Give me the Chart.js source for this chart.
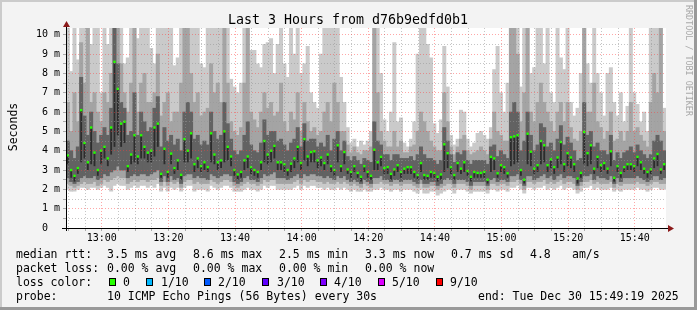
<!DOCTYPE html>
<html>
<head>
<meta charset="utf-8">
<script src="https://cdn.jsdelivr.net/npm/chart.js@4/dist/chart.umd.min.js"></script>
<style>
  html, body { margin: 0; padding: 0; background: #f3f3f3; }
  canvas { display: block; }
</style>
</head>
<body>
<canvas id="smoke" width="697" height="310"></canvas>
<script>
// ── Probe data: one step per minute, 12:49:19 → 15:49:19 (values in ms) ─────
const startMin = 49 + 19 / 60;   // minutes after 12:00

const median = [
  3.76, 3.0, 2.7, 3.1, 6.1, 4.4, 3.4, 5.2, 3.9, 3.0,
  4.0, 4.2, 3.6, 5.2, 8.6, 7.2, 5.4, 5.5, 3.2, 3.8,
  4.8, 3.7, 4.8, 4.2, 3.9, 4.0, 5.2, 5.4, 2.8, 4.1,
  2.9, 3.85, 3.1, 3.5, 2.75, 4.6, 4.0, 4.9, 3.3, 3.6,
  3.2, 3.4, 3.15, 4.9, 3.8, 3.4, 3.5, 5.0, 4.2, 3.7,
  3.0, 2.77, 2.9, 3.5, 3.7, 3.15, 3.0, 2.9, 3.4, 4.5,
  3.8, 4.0, 4.25, 3.4, 3.4, 3.3, 3.0, 3.33, 3.6, 4.2,
  3.36, 4.6, 3.7, 3.93, 3.97, 3.5, 3.65, 3.36, 3.8, 3.2,
  3.0, 4.28, 3.2, 3.93, 3.03, 2.9, 3.2, 2.85, 2.65, 3.2,
  2.9, 2.7, 4.05, 3.4, 3.68, 3.1, 3.15, 2.8, 3.03, 3.25,
  2.9, 3.07, 3.15, 3.15, 2.9, 2.74, 3.36, 2.74, 2.7, 2.9,
  2.85, 2.65, 2.77, 4.33, 3.87, 3.15, 2.74, 3.36, 3.07, 3.4,
  2.95, 2.65, 2.9, 2.85, 2.85, 2.9, 2.5, 3.68, 3.6, 2.83,
  3.25, 3.15, 2.83, 4.7, 4.74, 4.8, 3.0, 2.5, 4.88, 3.95,
  3.07, 3.25, 4.5, 4.28, 3.25, 3.55, 3.15, 3.65, 4.45, 3.3,
  3.87, 3.65, 3.3, 2.56, 2.85, 4.97, 3.87, 4.28, 3.07, 3.68,
  3.25, 3.36, 3.07, 3.97, 2.6, 3.2, 2.85, 3.15, 3.3, 3.3,
  3.2, 3.68, 3.4, 3.07, 2.9, 3.03, 3.6, 3.83, 3.03, 3.3,
];

// outer smoke: fastest / slowest ping
const pingMin = [
  2.0, 1.9, 1.9, 2.0, 2.1, 2.1, 2.0, 2.1, 2.1, 2.0,
  2.1, 2.2, 2.1, 1.9, 2.2, 2.3, 2.2, 2.2, 2.0, 2.1,
  2.2, 2.1, 2.2, 2.2, 2.1, 2.2, 2.1, 2.3, 1.9, 2.1,
  1.9, 2.1, 2.0, 2.1, 1.9, 2.1, 2.2, 2.2, 1.9, 2.0,
  2.0, 2.0, 1.9, 2.2, 2.1, 2.0, 2.1, 2.2, 2.2, 2.1,
  1.9, 1.9, 1.9, 2.0, 2.1, 2.0, 2.0, 1.9, 2.0, 2.2,
  2.1, 2.2, 2.2, 2.0, 2.0, 2.0, 2.0, 2.0, 2.1, 2.2,
  2.0, 2.2, 2.1, 2.2, 2.2, 2.1, 2.1, 2.0, 2.1, 2.0,
  2.0, 2.1, 2.0, 2.1, 2.0, 1.9, 2.0, 1.9, 1.9, 2.0,
  1.9, 1.9, 2.0, 2.0, 2.1, 2.0, 2.0, 1.9, 2.0, 2.0,
  1.9, 2.0, 2.0, 2.0, 1.9, 1.8, 2.0, 1.8, 1.8, 1.9,
  1.9, 1.7, 1.8, 1.9, 2.0, 2.0, 1.8, 2.0, 2.0, 2.0,
  1.9, 1.8, 1.9, 1.9, 1.9, 1.9, 1.8, 2.0, 2.0, 1.9,
  2.0, 2.0, 1.9, 2.1, 2.1, 2.2, 2.0, 1.8, 2.1, 2.1,
  2.0, 2.1, 2.1, 2.2, 2.0, 2.1, 2.0, 2.1, 2.2, 2.0,
  2.1, 2.1, 2.0, 1.8, 1.9, 2.1, 2.1, 2.2, 2.0, 2.1,
  2.0, 2.0, 2.0, 2.1, 1.9, 2.0, 1.9, 2.0, 2.0, 2.0,
  2.0, 2.1, 2.0, 2.0, 1.9, 2.0, 2.1, 2.1, 2.0, 2.0,
];
const pingMax = [
  10.4, 8.1, 10.4, 8.7, 10.4, 10.4, 10.4, 9.5, 10.4, 10.4,
  7.0, 10.4, 9.5, 10.4, 10.4, 10.4, 10.4, 8.5, 8.8, 10.4,
  10.4, 9.8, 10.4, 10.4, 10.4, 9.3, 8.5, 10.4, 10.4, 10.4,
  10.4, 10.4, 8.4, 8.8, 10.4, 10.4, 10.4, 10.4, 10.4, 10.4,
  8.5, 8.3, 10.4, 10.4, 10.4, 10.4, 10.4, 10.4, 10.4, 7.7,
  7.3, 7.0, 7.5, 10.4, 10.4, 9.2, 9.2, 8.5, 8.3, 9.5,
  9.6, 9.8, 8.0, 9.5, 10.4, 8.5, 7.8, 10.4, 9.0, 10.4,
  8.0, 8.5, 9.4, 7.0, 6.5, 6.2, 9.0, 10.4, 10.4, 10.4,
  10.4, 10.4, 7.8, 6.5, 5.2, 4.4, 4.6, 4.2, 4.5, 4.3,
  4.5, 5.0, 10.4, 10.4, 8.0, 5.6, 5.0, 6.0, 9.6, 5.5,
  5.7, 4.4, 4.2, 4.6, 5.5, 9.0, 10.4, 10.4, 9.5, 8.8,
  5.4, 4.9, 5.6, 9.4, 7.3, 4.8, 4.3, 4.6, 6.1, 6.0,
  4.6, 4.2, 4.4, 4.9, 5.0, 4.8, 4.6, 5.2, 8.2, 9.4,
  7.0, 6.0, 7.5, 10.4, 10.4, 10.4, 7.3, 10.4, 10.4, 8.0,
  8.3, 10.4, 10.4, 8.5, 10.4, 7.0, 6.5, 10.4, 8.8, 8.2,
  10.4, 6.5, 5.8, 6.2, 8.0, 10.4, 8.5, 7.5, 10.4, 8.0,
  7.0, 5.8, 8.0, 8.3, 6.5, 5.8, 7.0, 5.5, 6.3, 10.4,
  7.0, 6.4, 5.5, 6.0, 5.0, 10.4, 10.4, 10.4, 10.4, 6.2,
];

// second smoke layer: 2nd / 9th ping
const ping2 = [
  2.3, 2.2, 2.1, 2.2, 2.3, 2.4, 2.3, 2.3, 2.4, 2.2,
  2.3, 2.5, 2.4, 2.5, 2.6, 2.7, 2.6, 2.6, 2.3, 2.4,
  2.5, 2.4, 2.5, 2.5, 2.4, 2.5, 2.5, 2.6, 2.2, 2.4,
  2.2, 2.4, 2.3, 2.4, 2.1, 2.4, 2.5, 2.5, 2.3, 2.4,
  2.3, 2.3, 2.3, 2.5, 2.4, 2.3, 2.4, 2.5, 2.5, 2.4,
  2.2, 2.1, 2.2, 2.3, 2.4, 2.3, 2.3, 2.2, 2.3, 2.5,
  2.4, 2.5, 2.5, 2.3, 2.3, 2.3, 2.3, 2.3, 2.4, 2.5,
  2.3, 2.5, 2.4, 2.5, 2.5, 2.4, 2.4, 2.3, 2.4, 2.3,
  2.3, 2.4, 2.3, 2.4, 2.3, 2.2, 2.3, 2.2, 2.1, 2.3,
  2.2, 2.1, 2.3, 2.3, 2.4, 2.3, 2.3, 2.2, 2.3, 2.3,
  2.2, 2.3, 2.3, 2.3, 2.2, 2.1, 2.3, 2.1, 2.1, 2.2,
  2.2, 2.0, 2.1, 2.2, 2.3, 2.3, 2.1, 2.3, 2.3, 2.3,
  2.2, 2.0, 2.2, 2.2, 2.2, 2.2, 2.0, 2.3, 2.3, 2.2,
  2.3, 2.3, 2.2, 2.4, 2.4, 2.5, 2.3, 2.0, 2.4, 2.4,
  2.3, 2.4, 2.4, 2.5, 2.3, 2.4, 2.3, 2.4, 2.5, 2.3,
  2.4, 2.4, 2.3, 2.0, 2.2, 2.4, 2.4, 2.5, 2.3, 2.4,
  2.3, 2.3, 2.3, 2.4, 2.1, 2.3, 2.2, 2.3, 2.3, 2.3,
  2.3, 2.4, 2.3, 2.3, 2.2, 2.3, 2.4, 2.4, 2.3, 2.3,
];
const ping9 = [
  6.5, 5.0, 7.0, 5.5, 9.6, 7.5, 10.4, 6.5, 7.0, 6.0,
  5.5, 7.0, 6.5, 8.0, 10.4, 10.4, 8.5, 7.0, 6.0, 7.5,
  10.4, 6.0, 7.5, 8.0, 6.5, 6.5, 7.0, 9.0, 5.8, 6.5,
  7.0, 5.5, 6.0, 6.0, 7.5, 10.4, 10.4, 8.0, 6.5, 7.0,
  5.8, 6.0, 6.2, 8.5, 7.0, 7.5, 6.5, 10.4, 7.5, 5.5,
  5.0, 4.8, 5.2, 7.5, 10.4, 6.0, 5.6, 5.2, 6.0, 7.0,
  6.2, 6.5, 5.8, 6.0, 7.5, 5.5, 5.0, 6.0, 5.6, 7.0,
  5.0, 6.5, 5.5, 5.0, 5.2, 4.8, 5.0, 6.0, 6.5, 5.5,
  7.5, 6.5, 5.0, 5.0, 4.3, 3.9, 4.2, 3.9, 3.8, 4.0,
  4.0, 4.2, 10.4, 7.0, 5.0, 4.5, 4.2, 4.2, 5.0, 4.2,
  4.5, 3.9, 3.9, 4.2, 4.3, 5.0, 6.0, 5.5, 5.0, 4.5,
  4.2, 4.0, 4.0, 7.0, 5.5, 4.2, 3.8, 4.2, 4.6, 4.8,
  4.0, 3.8, 3.9, 4.0, 4.2, 4.0, 3.8, 4.6, 6.0, 5.0,
  4.8, 4.5, 4.5, 10.4, 10.4, 9.0, 5.5, 7.0, 10.4, 6.0,
  5.5, 6.5, 7.5, 6.5, 6.0, 5.5, 5.0, 6.0, 6.5, 5.5,
  6.5, 5.2, 4.6, 4.5, 5.0, 10.4, 6.0, 6.0, 7.5, 5.5,
  5.2, 4.6, 5.0, 6.0, 4.5, 4.6, 5.0, 4.5, 5.0, 6.5,
  5.0, 5.2, 4.8, 4.5, 4.2, 6.5, 8.0, 7.0, 10.4, 5.0,
];

// inner smoke: 3rd / 8th ping
const ping3 = [
  2.6, 2.4, 2.3, 2.4, 2.6, 2.7, 2.6, 2.6, 2.7, 2.5,
  2.6, 2.8, 2.7, 2.9, 3.0, 3.2, 3.0, 3.0, 2.6, 2.7,
  2.8, 2.7, 2.8, 2.8, 2.7, 2.8, 2.9, 3.0, 2.4, 2.7,
  2.4, 2.7, 2.5, 2.6, 2.3, 2.7, 2.8, 2.8, 2.6, 2.7,
  2.6, 2.6, 2.5, 2.8, 2.7, 2.6, 2.7, 2.8, 2.8, 2.7,
  2.4, 2.3, 2.4, 2.6, 2.7, 2.5, 2.5, 2.4, 2.6, 2.8,
  2.7, 2.8, 2.9, 2.6, 2.6, 2.6, 2.5, 2.6, 2.7, 2.8,
  2.6, 2.8, 2.7, 2.8, 2.8, 2.7, 2.7, 2.6, 2.7, 2.6,
  2.5, 2.7, 2.6, 2.7, 2.5, 2.4, 2.5, 2.4, 2.3, 2.5,
  2.4, 2.3, 2.6, 2.6, 2.7, 2.5, 2.5, 2.4, 2.5, 2.5,
  2.4, 2.5, 2.5, 2.5, 2.4, 2.3, 2.5, 2.3, 2.3, 2.4,
  2.4, 2.2, 2.3, 2.5, 2.6, 2.5, 2.3, 2.5, 2.5, 2.5,
  2.4, 2.2, 2.4, 2.4, 2.4, 2.4, 2.2, 2.5, 2.6, 2.4,
  2.5, 2.5, 2.4, 2.7, 2.7, 2.8, 2.5, 2.2, 2.7, 2.7,
  2.5, 2.6, 2.7, 2.8, 2.6, 2.7, 2.5, 2.7, 2.8, 2.6,
  2.7, 2.7, 2.6, 2.2, 2.4, 2.7, 2.7, 2.8, 2.5, 2.7,
  2.6, 2.6, 2.5, 2.7, 2.3, 2.6, 2.4, 2.6, 2.6, 2.6,
  2.6, 2.7, 2.6, 2.5, 2.4, 2.5, 2.7, 2.7, 2.5, 2.6,
];
const ping8 = [
  4.5, 4.0, 3.6, 4.2, 7.8, 5.8, 4.8, 6.0, 5.0, 4.4,
  4.8, 5.2, 4.8, 6.2, 10.4, 8.5, 6.5, 6.2, 4.8, 5.0,
  7.0, 4.8, 6.0, 5.5, 5.0, 5.2, 6.2, 6.8, 4.2, 5.2,
  4.5, 4.8, 4.3, 4.6, 4.0, 6.0, 6.5, 6.0, 4.6, 4.8,
  4.3, 4.5, 4.3, 6.0, 5.0, 4.6, 4.8, 6.5, 5.4, 4.6,
  4.0, 3.8, 4.0, 4.8, 5.5, 4.3, 4.0, 3.9, 4.4, 5.6,
  4.8, 5.0, 5.0, 4.5, 4.6, 4.3, 4.0, 4.4, 4.6, 5.2,
  4.2, 5.4, 4.5, 4.6, 4.6, 4.2, 4.4, 4.2, 4.8, 4.0,
  4.6, 5.0, 4.0, 4.5, 3.7, 3.5, 3.7, 3.5, 3.3, 3.6,
  3.5, 3.4, 5.5, 4.5, 4.3, 3.8, 3.8, 3.5, 3.8, 3.8,
  3.6, 3.6, 3.6, 3.7, 3.5, 3.8, 4.2, 3.8, 3.6, 3.6,
  3.5, 3.3, 3.5, 5.2, 4.5, 3.8, 3.4, 3.9, 3.8, 4.0,
  3.5, 3.3, 3.5, 3.5, 3.5, 3.5, 3.3, 4.2, 4.3, 3.7,
  4.0, 3.8, 3.6, 6.0, 6.5, 6.0, 4.0, 4.5, 6.0, 4.8,
  4.0, 4.3, 5.4, 5.2, 4.2, 4.4, 4.0, 4.6, 5.3, 4.3,
  4.7, 4.4, 4.0, 3.5, 3.6, 6.5, 4.8, 5.0, 4.2, 4.4,
  4.0, 4.0, 3.8, 4.8, 3.5, 3.9, 3.6, 3.9, 4.0, 4.2,
  3.9, 4.3, 4.0, 3.8, 3.6, 3.8, 4.5, 4.8, 4.5, 4.0,
];

// core smoke: lower of the two middle pings (the upper one is the median)
const ping5 = [
  3.3, 2.6, 2.4, 2.8, 3.4, 3.6, 3.0, 3.3, 3.2, 2.7,
  3.3, 3.6, 3.2, 3.8, 4.2, 4.8, 4.2, 4.4, 2.9, 3.3,
  3.4, 3.3, 3.6, 3.6, 3.4, 3.4, 3.7, 4.2, 2.6, 3.3,
  2.6, 3.3, 2.8, 3.0, 2.5, 3.4, 3.4, 3.6, 2.9, 3.1,
  2.9, 3.0, 2.9, 3.4, 3.3, 3.0, 3.1, 3.4, 3.5, 3.2,
  2.7, 2.5, 2.6, 3.0, 3.1, 2.8, 2.7, 2.6, 3.0, 3.4,
  3.3, 3.4, 3.6, 3.0, 3.0, 2.9, 2.7, 2.9, 3.1, 3.4,
  3.0, 3.5, 3.2, 3.4, 3.4, 3.1, 3.2, 3.0, 3.3, 2.9,
  2.7, 3.4, 2.9, 3.3, 2.8, 2.6, 2.9, 2.6, 2.4, 2.9,
  2.6, 2.5, 3.0, 3.0, 3.2, 2.8, 2.8, 2.5, 2.7, 2.9,
  2.6, 2.8, 2.8, 2.8, 2.6, 2.5, 2.9, 2.5, 2.5, 2.6,
  2.6, 2.4, 2.5, 2.9, 3.1, 2.8, 2.5, 2.9, 2.8, 2.9,
  2.7, 2.4, 2.6, 2.6, 2.6, 2.6, 2.3, 2.9, 3.0, 2.6,
  2.9, 2.8, 2.6, 3.2, 3.3, 3.4, 2.7, 2.3, 3.3, 3.2,
  2.8, 2.9, 3.3, 3.4, 2.9, 3.1, 2.8, 3.1, 3.3, 2.9,
  3.2, 3.1, 2.9, 2.3, 2.6, 3.3, 3.2, 3.3, 2.8, 3.1,
  2.9, 3.0, 2.8, 3.2, 2.4, 2.9, 2.6, 2.9, 3.0, 3.0,
  2.9, 3.2, 3.0, 2.8, 2.6, 2.8, 3.1, 3.2, 2.8, 3.0,
];

const lossLabels = ['0', '1/10', '2/10', '3/10', '4/10', '5/10', '9/10'];
const lossColors = ['#26ff00', '#00b8ff', '#0059ff', '#5e00ff', '#7e00ff', '#dd00ff', '#ff0000'];

const statsRtt  = ['3.5 ms avg', '8.6 ms max', '2.5 ms min', '3.3 ms now', '0.7 ms sd', '4.8', 'am/s'];
const statsLoss = ['0.00 % avg', '0.00 % max', '0.00 % min', '0.00 % now'];

// ── Helpers ───────────────────────────────────────────────────────────────────
const stepTime = median.map((_, i) => startMin + i + 0.5);
const band = (lo, hi) => lo.map((v, i) => ({ x: stepTime[i], y: [v, hi[i]] }));

const MONO = '"DejaVu Sans Mono", monospace';
const fmtTime = v => `${12 + Math.floor(v / 60)}:${String(v % 60).padStart(2, '0')}`;

const smokeBar = (data, color, order, width = 1) => ({
  type: 'bar',
  data,
  backgroundColor: color,
  borderWidth: 0,
  grouped: false,
  barPercentage: width,
  categoryPercentage: 1,
  order,
});

// ── Frame, titles and legend drawn round the plot ────────────────────────────
const rrdDecor = {
  id: 'rrdDecor',
  beforeDraw(chart) {
    const { ctx, chartArea: a } = chart;
    ctx.save();
    ctx.fillStyle = '#f3f3f3';
    ctx.fillRect(0, 0, chart.width, chart.height);
    ctx.fillStyle = '#ffffff';
    ctx.fillRect(a.left, a.top, a.right - a.left, a.bottom - a.top);
    ctx.restore();
  },
  afterDraw(chart) {
    const { ctx, chartArea: a } = chart;
    ctx.save();

    // axes + arrows
    ctx.strokeStyle = '#000';
    ctx.lineWidth = 1;
    ctx.beginPath();
    ctx.moveTo(62, a.bottom + 0.5); ctx.lineTo(669, a.bottom + 0.5);
    ctx.moveTo(a.left + 0.5, a.bottom + 3); ctx.lineTo(a.left + 0.5, 25);
    ctx.stroke();
    ctx.fillStyle = '#8b1a1a';
    ctx.beginPath();
    ctx.moveTo(668, a.bottom - 3); ctx.lineTo(674, a.bottom + 0.5); ctx.lineTo(668, a.bottom + 4);
    ctx.fill();
    ctx.beginPath();
    ctx.moveTo(a.left - 3, 27); ctx.lineTo(a.left + 0.5, 21); ctx.lineTo(a.left + 4, 27);
    ctx.fill();

    // title
    ctx.fillStyle = '#000';
    ctx.font = `13.3px ${MONO}`;
    ctx.textAlign = 'center';
    ctx.textBaseline = 'alphabetic';
    ctx.fillText('Last 3 Hours from d76b9edfd0b1', 348, 24);

    // y title
    ctx.font = `11.5px ${MONO}`;
    ctx.save();
    ctx.translate(14, 127);
    ctx.rotate(-Math.PI / 2);
    ctx.textBaseline = 'middle';
    ctx.fillText('Seconds', 0, 0);
    ctx.restore();

    // watermark
    ctx.save();
    ctx.translate(688, 5);
    ctx.rotate(Math.PI / 2);
    ctx.font = `8.4px ${MONO}`;
    ctx.fillStyle = '#a8a8a8';
    ctx.textAlign = 'left';
    ctx.textBaseline = 'middle';
    ctx.fillText('RRDTOOL / TOBI OETIKER', 0, 0);
    ctx.restore();

    // legend rows
    ctx.font = `11.5px ${MONO}`;
    ctx.textAlign = 'left';
    ctx.fillStyle = '#000';
    const cols = [107, 193, 279, 365, 451, 530, 572];
    ctx.fillText('median rtt:', 16, 258);
    statsRtt.forEach((s, i) => ctx.fillText(s, cols[i], 258));
    ctx.fillText('packet loss:', 16, 272);
    statsLoss.forEach((s, i) => ctx.fillText(s, cols[i], 272));
    ctx.fillText('loss color:', 16, 286);
    const boxX = [109, 146, 204, 262, 320, 378, 436];
    const txtX = [123, 161, 218, 277, 334, 392, 450];
    lossLabels.forEach((l, i) => {
      ctx.fillStyle = lossColors[i];
      ctx.fillRect(boxX[i], 278, 7, 8);
      ctx.strokeStyle = '#000';
      ctx.strokeRect(boxX[i] + 0.5, 278.5, 6, 7);
      ctx.fillStyle = '#000';
      ctx.fillText(l, txtX[i], 286);
    });
    ctx.fillText('probe:', 16, 300);
    ctx.fillText('10 ICMP Echo Pings (56 Bytes) every 30s', 107, 300);
    ctx.fillText('end: Tue Dec 30 15:49:19 2025', 478, 300);

    // 3D frame
    ctx.fillStyle = '#cbcbcb';
    ctx.fillRect(0, 0, chart.width, 2);
    ctx.fillRect(0, 0, 2, chart.height);
    ctx.fillStyle = '#999999';
    ctx.fillRect(0, chart.height - 3, chart.width, 3);
    ctx.fillRect(chart.width - 3, 0, 3, chart.height);
    ctx.restore();
  },
};

// ── Chart ─────────────────────────────────────────────────────────────────────
new Chart(document.getElementById('smoke'), {
  type: 'bar',
  data: {
    datasets: [
      smokeBar(band(pingMin, pingMax), '#cacaca', 5),
      smokeBar(band(ping2, ping9), '#a4a4a4', 4),
      smokeBar(band(ping3, ping8), '#626262', 3),
      smokeBar(band(ping5, median), '#2c2c2c', 2, 0.55),
      {
        type: 'scatter',
        data: median.map((v, i) => ({ x: stepTime[i], y: v })),
        pointStyle: 'rect',
        pointRadius: 1.7,
        borderWidth: 0,
        backgroundColor: '#26ff00',
        order: 1,
      },
    ],
  },
  options: {
    responsive: false,
    animation: false,
    devicePixelRatio: 1,
    events: [],
    layout: { padding: { left: 0, right: 31, top: 28, bottom: 62 } },
    plugins: { legend: { display: false }, tooltip: { enabled: false } },
    scales: {
      x: {
        type: 'linear',
        offset: false,
        min: startMin - 0.05,
        max: startMin + 180.05,
        afterFit: s => { s.height = 20; },
        grid: {
          offset: false,
          z: 1,
          tickLength: 3,
          color: c => c.tick.value % 20 === 0 ? 'rgba(255,60,60,0.45)' : 'rgba(150,150,150,0.55)',
          tickColor: '#aaa',
        },
        border: { display: false, dash: [1, 2] },
        ticks: {
          stepSize: 5,
          includeBounds: false,
          autoSkip: false,
          maxRotation: 0,
          padding: 1,
          color: '#000',
          font: { family: MONO, size: 10 },
          callback: v => v % 20 === 0 ? fmtTime(v) : '',
        },
      },
      y: {
        min: 0,
        max: 10.35,
        afterFit: s => { s.width = 66; },
        grid: {
          z: 1,
          tickLength: 3,
          color: c => Number.isInteger(c.tick.value) ? 'rgba(255,60,60,0.45)' : 'rgba(150,150,150,0.55)',
          tickColor: '#aaa',
        },
        border: { display: false, dash: [1, 2] },
        ticks: {
          stepSize: 0.5,
          includeBounds: false,
          autoSkip: false,
          padding: 3,
          color: '#000',
          font: { family: MONO, size: 10 },
          callback: v => Number.isInteger(v) ? (v === 0 ? ' 0  ' : `${String(v).padStart(2, ' ')} m`) : '',
        },
      },
    },
  },
  plugins: [rrdDecor],
});
</script>
</body>
</html>
